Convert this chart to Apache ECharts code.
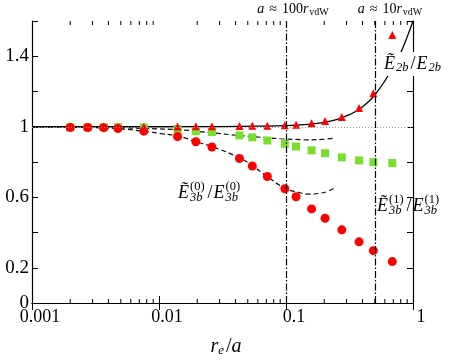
<!DOCTYPE html>
<html>
<head>
<meta charset="utf-8">
<script src="https://cdn.jsdelivr.net/npm/echarts@6/dist/echarts.min.js"></script>
<style>
  html, body { margin: 0; padding: 0; background: #fff; }
  #chart { width: 457px; height: 360px; }
</style>
</head>
<body>
<div id="chart"></div>
<script>
// sample positions r_e/a shared by the three marker series
var xPoints = [0.002, 0.00274, 0.00367, 0.00475, 0.0076, 0.014, 0.0195, 0.0261, 0.043, 0.0543, 0.0713, 0.098, 0.12, 0.159, 0.203, 0.275, 0.376, 0.487, 0.687];
var twoBody = [1.0, 1.0, 1.0, 1.0, 1.0, 1.002, 1.003, 1.003, 1.004, 1.005, 1.006, 1.008, 1.012, 1.02, 1.033, 1.055, 1.107, 1.19, 1.52];
var threeBody1 = [0.997, 0.997, 0.997, 0.998, 0.996, 0.987, 0.975, 0.97, 0.951, 0.94, 0.922, 0.903, 0.888, 0.866, 0.85, 0.826, 0.809, 0.799, 0.794];
var threeBody0 = [0.996, 0.996, 0.995, 0.99, 0.975, 0.945, 0.915, 0.885, 0.82, 0.777, 0.718, 0.648, 0.603, 0.534, 0.481, 0.415, 0.347, 0.297, 0.235];

// solid curve (two-body)
var curve2X = [0.001, 0.01, 0.03, 0.06, 0.1, 0.15, 0.2, 0.25, 0.3, 0.35, 0.4, 0.45, 0.5, 0.6, 0.7, 0.8, 0.9, 1.0];
var curve2Y = [1.0, 1.0, 1.001, 1.003, 1.006, 1.014, 1.025, 1.04, 1.062, 1.085, 1.113, 1.145, 1.18, 1.26, 1.34, 1.42, 1.51, 1.6];
// dashed curves (three-body)
var curve31X = [0.001, 0.003, 0.005, 0.008, 0.015, 0.025, 0.0435, 0.07, 0.09, 0.12, 0.146, 0.19, 0.24];
var curve31Y = [0.999, 0.997, 0.994, 0.99, 0.982, 0.967, 0.95, 0.938, 0.932, 0.928, 0.926, 0.928, 0.936];
var curve30X = [0.001, 0.003, 0.0048, 0.0075, 0.0107, 0.0146, 0.0192, 0.026, 0.0435, 0.055, 0.071, 0.098, 0.125, 0.155, 0.19, 0.21, 0.24];
var curve30Y = [0.999, 0.995, 0.989, 0.975, 0.96, 0.945, 0.917, 0.888, 0.822, 0.776, 0.718, 0.652, 0.628, 0.618, 0.624, 0.632, 0.652];

var vLines = [0.1, 0.5];
var yLabels = [0, 0.2, 0.6, 1, 1.4];
var minorTicks = [0.002, 0.003, 0.004, 0.005, 0.006, 0.007, 0.008, 0.009,
  0.02, 0.03, 0.04, 0.05, 0.06, 0.07, 0.08, 0.09,
  0.2, 0.3, 0.4, 0.5, 0.6, 0.7, 0.8, 0.9];

var FONT = '"Liberation Serif", "DejaVu Serif", serif';
var yMin = 0, yMax = 1.6;

function pairs(xs, ys) {
  return xs.map(function (x, i) { return [x, ys[i]]; });
}

// text measuring for the math labels
var ctx = document.createElement('canvas').getContext('2d');
function textW(t, size, italic) {
  ctx.font = (italic ? 'italic ' : '') + size + 'px ' + FONT;
  return ctx.measureText(t).width;
}
function txt(x, y, t, size, italic) {
  return {
    type: 'text', x: x, y: y, silent: true, z: 100,
    style: { text: t, fill: '#000', font: (italic ? 'italic ' : '') + size + 'px ' + FONT, align: 'left', verticalAlign: 'middle' }
  };
}
// parts: {t, s, i, dy, gap} or stacked {sup, sub, s}
function mathLabel(x, y, parts, center, bg) {
  var w = 0;
  var widths = parts.map(function (p) {
    var pw;
    if (p.sup !== undefined) pw = Math.max(textW(p.sup, p.s, false), textW(p.sub, p.s, true));
    else pw = textW(p.t, p.s, p.i);
    pw += (p.gap || 0);
    w += pw;
    return pw;
  });
  var cx = center ? x - w / 2 : x;
  var els = [];
  if (bg) {
    els.push({
      type: 'rect', silent: true, z: 99,
      shape: { x: cx - 2, y: y - bg / 2, width: w + 4, height: bg },
      style: { fill: '#fff' }
    });
  }
  parts.forEach(function (p, k) {
    if (p.sup !== undefined) {
      els.push(txt(cx, y - 6, p.sup, p.s, false));
      els.push(txt(cx, y + 5, p.sub, p.s, true));
    } else {
      els.push(txt(cx, y + (p.dy || 0), p.t, p.s, p.i));
    }
    cx += widths[k];
  });
  return els;
}

var labels = [].concat(
  mathLabel(293, 9, [
    { t: 'a', s: 14, i: true, gap: 5 }, { t: '≈', s: 14, gap: 5 }, { t: '100', s: 14 },
    { t: 'r', s: 14, i: true, gap: 1 }, { t: 'vdW', s: 10, dy: 3 }
  ], true),
  mathLabel(390, 9, [
    { t: 'a', s: 14, i: true, gap: 5 }, { t: '≈', s: 14, gap: 5 }, { t: '10', s: 14 },
    { t: 'r', s: 14, i: true, gap: 1 }, { t: 'vdW', s: 10, dy: 3 }
  ], true),
  mathLabel(384, 64, [
    { t: 'Ẽ', s: 18, i: true, gap: 1 }, { t: '2b', s: 12.5, i: true, dy: 4, gap: 2 },
    { t: '/', s: 18, gap: 1 }, { t: 'E', s: 18, i: true, gap: 1 }, { t: '2b', s: 12.5, i: true, dy: 4 }
  ], false, 24),
  mathLabel(178, 193, [
    { t: 'Ẽ', s: 18, i: true, gap: 1 }, { sup: '(0)', sub: '3b', s: 12.5, gap: 3 },
    { t: '/', s: 18, gap: 1 }, { t: 'E', s: 18, i: true, gap: 1 }, { sup: '(0)', sub: '3b', s: 12.5 }
  ], false),
  mathLabel(377, 206, [
    { t: 'Ẽ', s: 18, i: true, gap: 1 }, { sup: '(1)', sub: '3b', s: 12.5, gap: 3 },
    { t: '/', s: 18, gap: 1 }, { t: 'E', s: 18, i: true, gap: 1 }, { sup: '(1)', sub: '3b', s: 12.5 }
  ], false),
  mathLabel(226, 347, [
    { t: 'r', s: 20, i: true }, { t: 'e', s: 13, i: true, dy: 4, gap: 2 },
    { t: '/', s: 20 }, { t: 'a', s: 20, i: true }
  ], true)
);

var chart = echarts.init(document.getElementById('chart'), null, { renderer: 'canvas' });

var xBase = {
  type: 'log', logBase: 10, min: 0.001, max: 1,
  axisLine: { lineStyle: { color: '#000', width: 1.2 } },
  axisTick: { inside: true, length: 7, lineStyle: { color: '#000' } },
  splitLine: { show: false }
};
var yBase = {
  type: 'value', min: yMin, max: yMax, interval: 0.2,
  axisLine: { show: true, lineStyle: { color: '#000', width: 1.2 } },
  axisTick: { show: true, inside: true, length: 6, lineStyle: { color: '#000' } },
  splitLine: { show: false }
};

var option = {
  animation: false,
  backgroundColor: '#fff',
  grid: { left: 32, right: 44, top: 21, bottom: 57, containLabel: false },
  xAxis: [
    Object.assign({}, xBase, {
      position: 'bottom',
      axisLabel: {
        color: '#000', fontFamily: FONT, fontSize: 18, margin: 5, padding: [0, 0, 0, 16],
        formatter: function (v) { return String(+Number(v).toPrecision(3)); }
      }
    }),
    Object.assign({}, xBase, { position: 'top', axisLabel: { show: false } })
  ],
  yAxis: [
    Object.assign({}, yBase, {
      position: 'left',
      axisLabel: {
        color: '#000', fontFamily: FONT, fontSize: 19, margin: 3,
        formatter: function (v) {
          var r = Math.round(v * 10) / 10;
          return yLabels.indexOf(r) >= 0 ? String(r) : '';
        }
      }
    }),
    Object.assign({}, yBase, { position: 'right', axisLabel: { show: false } })
  ],
  graphic: labels,
  series: [
    {
      type: 'custom', xAxisIndex: 0, yAxisIndex: 0, silent: true, clip: false, z: 5,
      data: minorTicks.map(function (v) { return [v, 0]; }),
      encode: { x: 0, y: 1 },
      renderItem: function (params, api) {
        var b = api.coord([api.value(0), yMin]);
        var t = api.coord([api.value(0), yMax]);
        return {
          type: 'group', children: [
            { type: 'line', shape: { x1: b[0], y1: b[1], x2: b[0], y2: b[1] - 4 }, style: { stroke: '#000', lineWidth: 1 } },
            { type: 'line', shape: { x1: t[0], y1: t[1], x2: t[0], y2: t[1] + 4 }, style: { stroke: '#000', lineWidth: 1 } }
          ]
        };
      }
    },
    {
      name: 'E2b curve', type: 'line', smooth: true, showSymbol: false, silent: true,
      data: pairs(curve2X, curve2Y),
      lineStyle: { color: '#000', width: 1.3 },
      z: 2,
      markLine: {
        silent: true, symbol: 'none', label: { show: false }, animation: false,
        data: [
          { yAxis: 1, lineStyle: { color: '#999', type: [1, 2], width: 1 } },
          { xAxis: vLines[0], lineStyle: { color: '#000', type: [7, 2, 1.5, 2], width: 1.2 } },
          { xAxis: vLines[1], lineStyle: { color: '#000', type: [7, 2, 1.5, 2], width: 1.2 } }
        ]
      }
    },
    {
      name: 'E3b1 curve', type: 'line', smooth: true, showSymbol: false, silent: true,
      data: pairs(curve31X, curve31Y),
      lineStyle: { color: '#111', width: 1.2, type: [5, 3] }, z: 2
    },
    {
      name: 'E3b0 curve', type: 'line', smooth: true, showSymbol: false, silent: true,
      data: pairs(curve30X, curve30Y),
      lineStyle: { color: '#111', width: 1.2, type: [5, 3] }, z: 2
    },
    {
      name: 'E3b1', type: 'scatter', symbol: 'rect', symbolSize: 8,
      data: pairs(xPoints, threeBody1),
      itemStyle: { color: '#78e02c', opacity: 1 }, z: 3
    },
    {
      name: 'E3b0', type: 'scatter', symbol: 'circle', symbolSize: 9,
      data: pairs(xPoints, threeBody0),
      itemStyle: { color: '#ff0000', opacity: 1 }, z: 4
    },
    {
      name: 'E2b', type: 'scatter', symbol: 'triangle', symbolSize: 8,
      data: pairs(xPoints, twoBody),
      itemStyle: { color: '#ff0000', opacity: 1 }, z: 4
    }
  ]
};

chart.setOption(option);
</script>
</body>
</html>
